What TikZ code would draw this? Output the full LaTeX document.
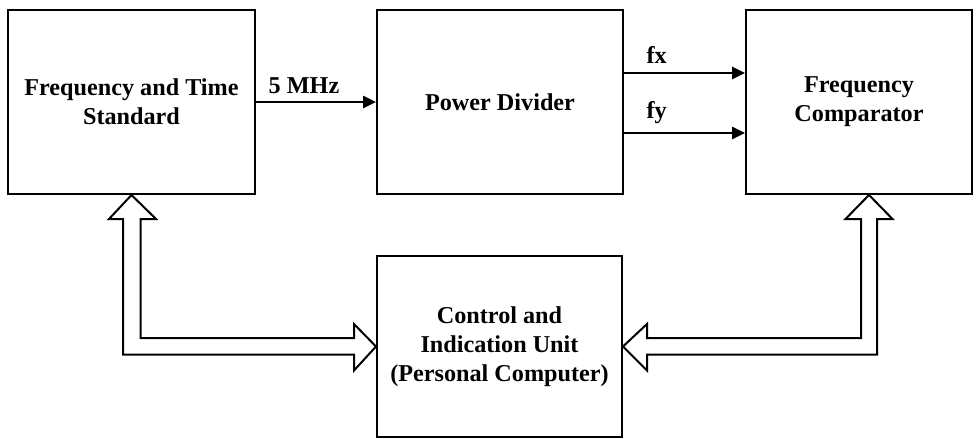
\documentclass[tikz,border=0pt]{standalone}
\usepackage{fontspec}
\setmainfont{Liberation Serif}
\usetikzlibrary{calc,arrows.meta}
\begin{document}
\begin{tikzpicture}[x=1pt,y=-1pt,
  blk/.style={draw, line width=2pt, align=center, inner sep=0pt,
    font=\fontsize{24.2}{28.8}\selectfont\bfseries},
  sig/.style={line width=2.5pt, -{Triangle[length=13pt,width=12pt]}},
  lbl/.style={font=\fontsize{24.2}{28.8}\selectfont\bfseries, inner sep=0pt},
  hollow/.style={draw, line width=2pt, fill=white, line join=miter}]
\useasboundingbox (0,0) rectangle (980,439);
\node[blk, minimum width=247pt, minimum height=184pt] (A) at (131.5,102) {Frequency and Time\\Standard};
\node[blk, minimum width=246pt, minimum height=184pt] (B) at (500,102) {Power Divider};
\node[blk, minimum width=226pt, minimum height=184pt] (C) at (859,102) {Frequency\\Comparator};
\node[blk, minimum width=245pt, minimum height=181pt] (D) at (499.5,346.5) {Control and\\Indication Unit\\(Personal Computer)};
% signal arrows
\draw[sig] (A.east) -- (B.west) node[lbl, pos=0.4, above=7pt] {5 MHz};
\draw[sig] ($(B.east)+(0,-29)$) -- ($(C.west)+(0,-29)$) node[lbl, pos=0.27, above=8pt] {fx};
\draw[sig] ($(B.east)+(0,31)$) -- ($(C.west)+(0,31)$) node[lbl, pos=0.27, above=8pt] {fy};
% hollow arrows
\coordinate (T1) at (A.south);
\coordinate (T2) at (D.west);
\coordinate (T3) at ([xshift=10pt]C.south);
\coordinate (T4) at (D.east);
\coordinate (T1r) at ($(T1)+(9,0)$);
\coordinate (T1l) at ($(T1)+(-8.5,0)$);
\coordinate (T2u) at ($(T2)+(0,-8.5)$);
\coordinate (T2d) at ($(T2)+(0,8)$);
\coordinate (T3r) at ($(T3)+(8,0)$);
\coordinate (T3l) at ($(T3)+(-8,0)$);
\coordinate (T4u) at ($(T4)+(0,-8.5)$);
\coordinate (T4d) at ($(T4)+(0,8)$);
\draw[hollow] (T1) -- ($(T1)+(24.5,24)$) -- ($(T1)+(9,24)$)
  -- (T1r |- T2u) -- ($(T2)+(-22,-8.5)$) -- ($(T2)+(-22,-22.5)$)
  -- (T2) -- ($(T2)+(-22,24)$) -- ($(T2)+(-22,8)$)
  -- (T1l |- T2d) -- ($(T1)+(-8.5,24)$) -- ($(T1)+(-22.5,24)$) -- cycle;
\draw[hollow] (T3) -- ($(T3)+(23.5,24)$) -- ($(T3)+(8,24)$)
  -- (T3r |- T4d) -- ($(T4)+(24,8)$) -- ($(T4)+(24,24)$)
  -- (T4) -- ($(T4)+(24,-22.5)$) -- ($(T4)+(24,-8.5)$)
  -- (T3l |- T4u) -- ($(T3)+(-8,24)$) -- ($(T3)+(-23.5,24)$) -- cycle;
\end{tikzpicture}
\end{document}
